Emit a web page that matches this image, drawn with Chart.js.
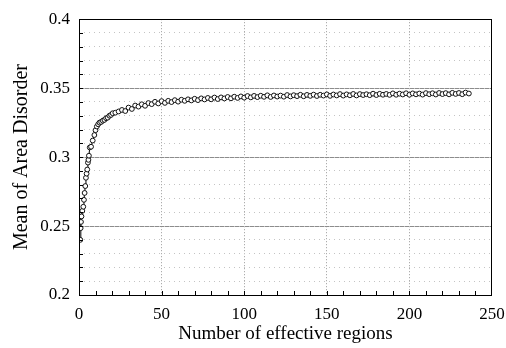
<!DOCTYPE html>
<html lang="en">
<head>
  <meta charset="UTF-8">
  <title>Mean of Area Disorder</title>
  <script src="https://cdn.jsdelivr.net/npm/chart.js"></script>
  <style>
    html, body { margin: 0; padding: 0; background: #fff; }
    .chart-container { position: relative; width: 506px; height: 348px; }
  </style>
</head>
<body>

<div class="chart-container">
  <canvas id="disorderChart"></canvas>
</div>

<script>
  // Number of effective regions (x) and mean area disorder (y)
  var regionCount = [
    0.8, 1.0, 1.2, 1.5, 2.0, 2.6, 3.0, 3.4, 3.8, 4.2, 4.6, 5.0, 5.4, 5.7, 6.0, 6.5,
    7.3, 8.3, 9.3, 10.0, 10.8, 11.6, 12.4, 13.4, 14.4, 15.4, 16.4, 17.4, 18.4, 19.4, 20.4,
    22, 24, 26, 28, 30, 32, 34, 36, 38, 40, 42, 44, 46, 48, 50, 52, 54, 56, 58, 60,
    62, 64, 66, 68, 70, 72, 74, 76, 78, 80, 82, 84, 86, 88, 90, 92, 94, 96, 98, 100,
    102, 104, 106, 108, 110, 112, 114, 116, 118, 120, 122, 124, 126, 128, 130, 132, 134, 136, 138, 140,
    142, 144, 146, 148, 150, 152, 154, 156, 158, 160, 162, 164, 166, 168, 170, 172, 174, 176, 178, 180,
    182, 184, 186, 188, 190, 192, 194, 196, 198, 200, 202, 204, 206, 208, 210, 212, 214, 216, 218, 220,
    222, 224, 226, 228, 230, 232, 234, 236
  ];
  var areaDisorder = [
    0.2400, 0.2485, 0.2530, 0.2570, 0.2610, 0.2640, 0.2690, 0.2740, 0.2790, 0.2850, 0.2880, 0.2910, 0.2960, 0.2980, 0.3010, 0.3070,
    0.3075, 0.3120, 0.3160, 0.3195, 0.3222, 0.3238, 0.3250, 0.3255, 0.3264, 0.3270, 0.3282, 0.3286, 0.3300, 0.3306, 0.3318,
    0.3322, 0.3331, 0.3342, 0.3334, 0.3359, 0.3349, 0.3374, 0.3366, 0.3383, 0.3372, 0.3392, 0.3384, 0.3401, 0.3389, 0.3406, 0.3393, 0.3408, 0.3399, 0.3413, 0.3402,
    0.3416, 0.3408, 0.3419, 0.3411, 0.3423, 0.3413, 0.3426, 0.3418, 0.3429, 0.3419, 0.3432, 0.3421, 0.3433, 0.3425, 0.3436, 0.3426, 0.3438, 0.3429, 0.3440, 0.3431,
    0.3443, 0.3433, 0.3444, 0.3435, 0.3445, 0.3437, 0.3448, 0.3436, 0.3447, 0.3439, 0.3446, 0.3438, 0.3450, 0.3440, 0.3449, 0.3442, 0.3452, 0.3441, 0.3451, 0.3444,
    0.3453, 0.3443, 0.3452, 0.3446, 0.3455, 0.3444, 0.3454, 0.3447, 0.3457, 0.3446, 0.3455, 0.3448, 0.3458, 0.3447, 0.3457, 0.3450, 0.3456, 0.3449, 0.3460, 0.3450,
    0.3459, 0.3452, 0.3458, 0.3451, 0.3462, 0.3452, 0.3460, 0.3454, 0.3463, 0.3452, 0.3462, 0.3455, 0.3461, 0.3453, 0.3464, 0.3456, 0.3463, 0.3454, 0.3465, 0.3457,
    0.3464, 0.3455, 0.3466, 0.3458, 0.3465, 0.3456, 0.3468, 0.3461
  ];

  // axis ranges
  var xRange = [0, 250];
  var yRange = [0.2, 0.4];
  var xMajorStep = 50, xMinorStep = 10;
  var yMajorStep = 0.05, yMinorStep = 0.01;

  var serif = "'Liberation Serif', 'Times New Roman', serif";
  var points = regionCount.map(function(x, i) { return { x: x, y: areaDisorder[i] }; });

  // frame round the plot plus the small inward tick marks
  var framePlugin = {
    id: 'frame',
    afterDraw: function(chart) {
      var ctx = chart.ctx, a = chart.chartArea;
      var xs = chart.scales.x, ys = chart.scales.y;
      ctx.save();
      ctx.strokeStyle = '#000';
      ctx.lineWidth = 1;
      ctx.strokeRect(Math.round(a.left) + 0.5, Math.round(a.top) + 0.5,
                     Math.round(a.right - a.left) - 1, Math.round(a.bottom - a.top));
      ctx.beginPath();
      for (var v = xRange[0] + xMinorStep; v < xRange[1]; v += xMinorStep) {
        var px = Math.round(xs.getPixelForValue(v)) + 0.5;
        ctx.moveTo(px, a.bottom);
        ctx.lineTo(px, a.bottom - 4);
      }
      for (var k = 1; k < Math.round((yRange[1] - yRange[0]) / yMinorStep); k++) {
        var py = Math.round(ys.getPixelForValue(yRange[0] + k * yMinorStep)) + 0.5;
        ctx.moveTo(a.left, py);
        ctx.lineTo(a.left + 4, py);
      }
      ctx.stroke();
      ctx.restore();
    }
  };

  var ctxDisorder = document.getElementById('disorderChart').getContext('2d');
  var disorderChart = new Chart(ctxDisorder, {
    type: 'line',
    data: {
      datasets: [{
        data: points,
        borderColor: '#000',
        borderWidth: 1,
        pointRadius: 2.4,
        pointBorderWidth: 1,
        pointBorderColor: '#111',
        pointBackgroundColor: '#fff',
        tension: 0
      }]
    },
    options: {
      responsive: true,
      maintainAspectRatio: false,
      animation: false,
      layout: { padding: { top: 19, right: 14, left: 0, bottom: 0 } },
      plugins: { legend: { display: false }, tooltip: { enabled: false } },
      scales: {
        x: {
          type: 'linear',
          min: xRange[0],
          max: xRange[1],
          ticks: { stepSize: xMajorStep, color: '#000', padding: 9, maxRotation: 0,
                   font: { family: serif, size: 17 } },
          grid: {
            drawTicks: false,
            color: function(c) { return (c.tick && (c.tick.value === xRange[0] || c.tick.value === xRange[1])) ? 'rgba(0,0,0,0)' : '#9a9a9a'; }
          },
          border: { display: false, dash: [1, 2] },
          title: { display: true, text: 'Number of effective regions', color: '#000',
                   padding: { top: 0, bottom: 3 }, font: { family: serif, size: 19 } },
          afterFit: function(s) { s.height = 53; s.paddingLeft = 0; s.paddingRight = 0; }
        },
        y: {
          min: yRange[0],
          max: yRange[1],
          ticks: {
            stepSize: yMajorStep, color: '#000', padding: 9,
            font: { family: serif, size: 17 },
            callback: function(v) { return String(parseFloat(v.toFixed(2))); }
          },
          grid: {
            drawTicks: false,
            color: function(c) { return (c.tick && (Math.abs(c.tick.value - yRange[0]) < 1e-6 || Math.abs(c.tick.value - yRange[1]) < 1e-6)) ? 'rgba(0,0,0,0)' : '#8c8c8c'; }
          },
          border: { display: false },
          title: { display: true, text: 'Mean of Area Disorder', color: '#000',
                   padding: { top: 10, bottom: 0 }, font: { family: serif, size: 20 } },
          afterFit: function(s) { s.width = 79; }
        },
        yMinor: {
          position: 'left',
          min: yRange[0],
          max: yRange[1],
          ticks: { display: false, stepSize: yMinorStep },
          grid: { drawTicks: false, color: '#c4c4c4' },
          border: { display: false, dash: [1, 4] },
          afterFit: function(s) { s.width = 0; }
        }
      }
    },
    plugins: [framePlugin]
  });
</script>

</body>
</html>
